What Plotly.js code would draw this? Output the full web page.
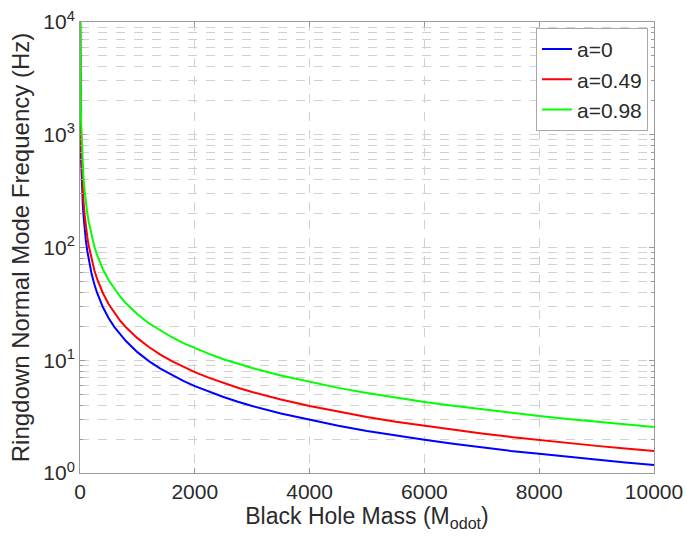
<!DOCTYPE html>
<html>
<head>
<meta charset="utf-8">
<script src="https://cdn.plot.ly/plotly-3.0.1.min.js"></script>
<style>html,body{margin:0;padding:0;background:#fff;}#chart{width:687px;height:536px;}</style>
</head>
<body>
<div id="chart"></div>
<script>
// Black hole mass (solar masses)
const mass = [1, 2, 3, 5, 7, 10, 15, 20, 30, 40, 50, 60, 80, 100, 125, 150, 200, 250, 300, 400, 500, 600, 700, 800, 1000, 1200, 1400, 1600, 1800, 2000, 2250, 2500, 2750, 3000, 3500, 4000, 4500, 5000, 5500, 6000, 6500, 7000, 7500, 8000, 8500, 9000, 9500, 10000];
// Ringdown frequency (Hz) for each spin
const freqA0 = [11800, 5900, 3930, 2360, 1690, 1180, 787, 590, 393, 295, 236, 197, 148, 118, 94.4, 78.7, 59.0, 47.2, 39.3, 29.5, 23.6, 19.7, 16.9, 14.8, 11.8, 9.83, 8.43, 7.38, 6.56, 5.90, 5.24, 4.72, 4.29, 3.93, 3.37, 2.95, 2.62, 2.36, 2.15, 1.97, 1.82, 1.69, 1.57, 1.48, 1.39, 1.31, 1.24, 1.18];
const freqA049 = [15700, 7850, 5230, 3140, 2240, 1570, 1050, 785, 523, 393, 314, 262, 196, 157, 126, 105, 78.5, 62.8, 52.3, 39.3, 31.4, 26.2, 22.4, 19.6, 15.7, 13.1, 11.2, 9.81, 8.72, 7.85, 6.98, 6.28, 5.71, 5.23, 4.49, 3.93, 3.49, 3.14, 2.85, 2.62, 2.42, 2.24, 2.09, 1.96, 1.85, 1.74, 1.65, 1.57];
const freqA098 = [25600, 12800, 8530, 5120, 3660, 2560, 1710, 1280, 853, 640, 512, 427, 320, 256, 205, 171, 128, 102, 85.3, 64.0, 51.2, 42.7, 36.6, 32.0, 25.6, 21.3, 18.3, 16.0, 14.2, 12.8, 11.4, 10.2, 9.31, 8.53, 7.31, 6.40, 5.69, 5.12, 4.65, 4.27, 3.94, 3.66, 3.41, 3.20, 3.01, 2.84, 2.69, 2.56];
const seriesNames = ['a=0', 'a=0.49', 'a=0.98'];

const yTickVals = [1, 10, 100, 1000, 10000];
const yTickText = ['10<sup>0</sup>', '10<sup>1</sup>', '10<sup>2</sup>', '10<sup>3</sup>', '10<sup>4</sup>'];
const yMinorVals = [2,3,4,5,6,7,8,9,20,30,40,50,60,70,80,90,200,300,400,500,600,700,800,900,2000,3000,4000,5000,6000,7000,8000,9000];
const xTickVals = [0, 2000, 4000, 6000, 8000, 10000];
const xTickText = ['0', '2000', '4000', '6000', '8000', '10000'];

const font = 'Liberation Sans, Arial, sans-serif';
const gridCol = '#d0d0d0';
const axCol = '#9a9a9a';
const txtCol = '#2a2a2a';

const traces = [
  {x: mass, y: freqA0, name: seriesNames[0], mode: 'lines', line: {color: '#0000ff', width: 2}},
  {x: mass, y: freqA049, name: seriesNames[1], mode: 'lines', line: {color: '#ff0000', width: 2}},
  {x: mass, y: freqA098, name: seriesNames[2], mode: 'lines', line: {color: '#00ff00', width: 2}}
];

const layout = {
  width: 687, height: 536,
  margin: {l: 80, r: 33, t: 22, b: 63},
  paper_bgcolor: '#fff', plot_bgcolor: '#fff',
  font: {family: font, size: 22, color: txtCol},
  showlegend: true,
  legend: {x: 0.9895, xanchor: 'right', y: 0.987, yanchor: 'top',
    bgcolor: '#fff', bordercolor: '#a8a8a8', borderwidth: 1,
    font: {family: font, size: 21, color: txtCol}, tracegroupgap: 0},
  xaxis: {
    range: [0, 10000], tickmode: 'array', tickvals: xTickVals, ticktext: xTickText,
    showline: true, linecolor: axCol, linewidth: 1, mirror: 'ticks',
    ticks: 'inside', ticklen: 5, tickcolor: axCol,
    showgrid: true, gridcolor: gridCol, griddash: 'dash', gridwidth: 1,
    zeroline: false, tickfont: {size: 21, color: txtCol},
    title: {text: 'Black Hole Mass (M<sub>odot</sub>)', font: {size: 23, color: txtCol}, standoff: 2}
  },
  yaxis: {
    type: 'log', range: [0, 4], tickmode: 'array', tickvals: yTickVals, ticktext: yTickText,
    showline: true, linecolor: axCol, linewidth: 1, mirror: 'ticks',
    ticks: 'inside', ticklen: 5, tickcolor: axCol,
    showgrid: true, gridcolor: gridCol, griddash: 'dash', gridwidth: 1,
    zeroline: false, tickfont: {size: 21, color: txtCol},
    minor: {tickmode: 'array', tickvals: yMinorVals, ticks: 'inside', ticklen: 3, tickcolor: axCol,
      showgrid: true, gridcolor: gridCol, griddash: 'dash', gridwidth: 1},
    title: {text: 'Ringdown Normal Mode Frequency (Hz)', font: {size: 24, color: txtCol}, standoff: 6}
  }
};

Plotly.newPlot('chart', traces, layout, {displayModeBar: false, staticPlot: true});
</script>
</body>
</html>
